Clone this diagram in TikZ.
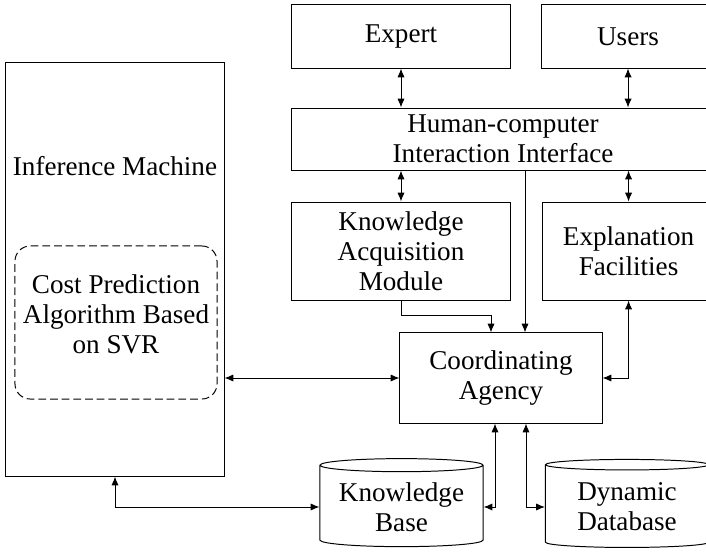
\documentclass[tikz,border=0pt]{standalone}
\usepackage{fontspec}
\setmainfont{Liberation Serif}
\usetikzlibrary{shapes.geometric,arrows.meta,positioning,calc}

\begin{document}
\begin{tikzpicture}[
    x=0.025cm, y=-0.025cm,
    font=\fontsize{19.3pt}{21.3pt}\selectfont,
    box/.style={rectangle, draw, line width=0.7pt, align=center, inner sep=2pt},
    dashbox/.style={rectangle, draw, dash pattern=on 5.5pt off 2.8pt, rounded corners=0.38cm, line width=0.7pt},
    store/.style={cylinder, shape border rotate=90, draw, line width=0.7pt, aspect=0.1, align=center, inner sep=2pt},
    arrow/.style={-{Latex[length=2.2mm,width=1.8mm]}, line width=0.7pt},
    twoway/.style={{Latex[length=2.2mm,width=1.8mm]}-{Latex[length=2.2mm,width=1.8mm]}, line width=0.7pt}
]
\useasboundingbox (0,0) rectangle (706,552);
\clip (0,0) rectangle (706,552);

% top row and interface
\node[box, minimum width=5.45cm, minimum height=1.575cm] (expert) at (401,36.5) {Expert};
\node[box, minimum width=4.35cm, minimum height=1.575cm, right=0.75cm of expert] (users) {Users};
\node[box, minimum width=10.55cm, minimum height=1.55cm, below=0.975cm of expert.south west, anchor=north west] (hci) {Human-computer\\Interaction Interface};
\node[box, minimum width=5.45cm, minimum height=2.45cm, below=0.775cm of hci.south west, anchor=north west] (kam) {Knowledge\\Acquisition\\Module};
\node[box, minimum width=4.325cm, minimum height=2.45cm, right=0.775cm of kam] (expl) {Explanation\\Facilities};
\node[box, minimum width=5.05cm, minimum height=2.25cm] (coord) at (501,378) {Coordinating\\Agency};

% inference machine
\node[box, minimum width=5.45cm, minimum height=10.325cm] (infer) at (115,269.5) {};
\node (infertitle) at ($(infer.north)+(0,104)$) {Inference Machine};
\node[dashbox, minimum width=5.05cm, minimum height=3.825cm] (svr) at (116,322.5) {};
\node[align=center] (svrtext) at ($(svr)+(0,-8)$) {Cost Prediction\\Algorithm Based\\on SVR};

% databases
\node[store, minimum width=4.075cm, minimum height=2.2cm] (kb) at (401.5,507) {Knowledge\\Base};
\node[store, minimum width=4.075cm, minimum height=2.2cm] (db) at (627,507) {Dynamic\\Database};

\coordinate (hcitap) at ($(coord.north)+(24,0)$);
\coordinate (kamtap) at ($(coord.north)+(-10,0)$);
\coordinate (kbtap) at ($(coord.south)+(-6,0)$);
\coordinate (dbtap) at ($(coord.south)+(25,0)$);

\draw[twoway] (expert.south) -- (expert.south |- hci.north);
\draw[twoway] (users.south) -- (users.south |- hci.north);
\draw[twoway] (kam.north) -- (kam.north |- hci.south);
\draw[twoway] (expl.north) -- (expl.north |- hci.south);
\draw[arrow] (hcitap |- hci.south) -- (hcitap);
\draw[arrow] (kam.south) -- ++(0,15) -| (kamtap);
\draw[twoway] (expl.south) |- (coord.east);
\draw[twoway] (infer.east |- coord.west) -- (coord.west);
\draw[twoway] (infer.south) |- (kb.west);
\draw[twoway] (kbtap) |- (kb.east);
\draw[twoway] (dbtap) |- (db.west);
\end{tikzpicture}
\end{document}
